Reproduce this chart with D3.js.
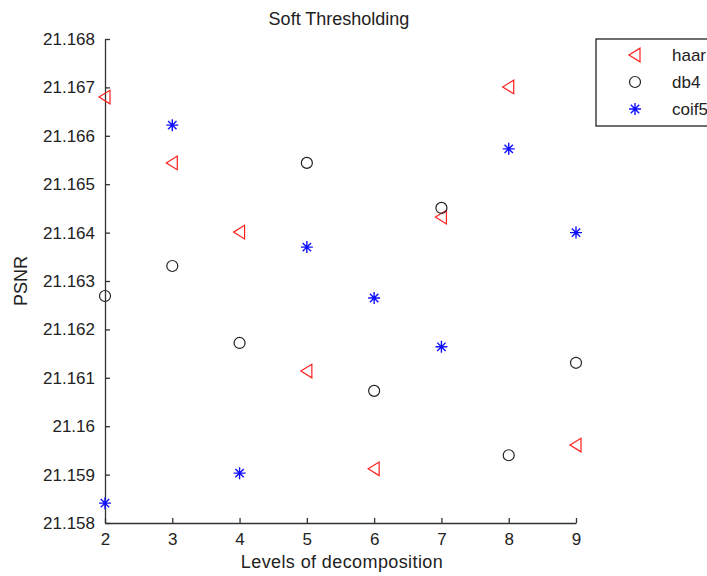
<!DOCTYPE html>
<html><head><meta charset="utf-8">
<script src="https://cdn.jsdelivr.net/npm/d3@7"></script>
<style>body{margin:0;background:#fff;} svg{display:block;} text{font-family:"Liberation Sans",Arial,sans-serif;fill:#222;}</style>
</head><body>
<svg id="c" width="707" height="576"></svg>
<script>
const levels = [2,3,4,5,6,7,8,9];
const haar  = [21.1668,21.16544,21.16401,21.16114,21.15912,21.16432,21.16701,21.15961];
const db4   = [21.16269,21.16331,21.16172,21.16544,21.16073,21.16451,21.1594,21.16131];
const coif5 = [21.15841,21.16622,21.15903,21.1637,21.16265,21.16164,21.16573,21.164];
const yTicks = [21.158,21.159,21.16,21.161,21.162,21.163,21.164,21.165,21.166,21.167,21.168];
const seriesNames = ["haar","db4","coif5"];

const svg = d3.select("#c");
const x = d3.scaleLinear().domain([2,9]).range([105,576]);
const y = d3.scaleLinear().domain([21.158,21.168]).range([523,39]);

// axes
const xAxis = d3.axisBottom(x).tickValues(levels).tickSizeInner(-5).tickSizeOuter(0).tickPadding(10)
  .tickFormat(d3.format("d"));
const yAxis = d3.axisLeft(y).tickValues(yTicks).tickSizeInner(-5).tickSizeOuter(0).tickPadding(10)
  .tickFormat(d => d3.format(".6~f")(d));
const gx = svg.append("g").attr("transform","translate(0,523)").call(xAxis);
const gy = svg.append("g").attr("transform","translate(105,0)").call(yAxis);
[gx,gy].forEach(g=>{
  g.selectAll("path,line").attr("stroke","#333").attr("stroke-width",1.3);
  g.selectAll("text").attr("font-size",17).attr("fill","#222").attr("font-family","Liberation Sans, Arial, sans-serif");
});

// markers
function triPath(){ // left-pointing triangle
  return `M-6,0 L5,-6.8 L5,6.8 Z`;
}
function drawTri(g,cx,cy){
  g.append("path").attr("d",triPath()).attr("transform",`translate(${cx},${cy})`)
   .attr("fill","none").attr("stroke","#ff2020").attr("stroke-width",1.2);
}
function drawCirc(g,cx,cy){
  g.append("circle").attr("cx",cx).attr("cy",cy).attr("r",5.5)
   .attr("fill","none").attr("stroke","#222").attr("stroke-width",1.2);
}
function drawStar(g,cx,cy){
  const r=6, d=4.2;
  g.append("path").attr("transform",`translate(${cx},${cy})`)
   .attr("d",`M${-r},0L${r},0M0,${-r}L0,${r}M${-d},${-d}L${d},${d}M${-d},${d}L${d},${-d}`)
   .attr("stroke","#1010ff").attr("stroke-width",1.4).attr("fill","none");
}
const pg = svg.append("g");
levels.forEach((l,i)=>{
  drawTri(pg,x(l),y(haar[i]));
  drawCirc(pg,x(l),y(db4[i]));
  drawStar(pg,x(l),y(coif5[i]));
});

// title & labels
svg.append("text").attr("x",339).attr("y",25).attr("text-anchor","middle").attr("font-size",18).text("Soft Thresholding");
svg.append("text").attr("x",342).attr("y",568).attr("text-anchor","middle").attr("font-size",18).attr("letter-spacing",0.4).text("Levels of decomposition");
svg.append("text").attr("transform","translate(27,281) rotate(-90)").attr("text-anchor","middle").attr("font-size",18).text("PSNR");

// legend
const lg = svg.append("g");
lg.append("rect").attr("x",596).attr("y",39).attr("width",130).attr("height",87)
  .attr("fill","#fff").attr("stroke","#222").attr("stroke-width",1.3);
const rowsY=[55,82,109];
const drawers=[drawTri,drawCirc,drawStar];
seriesNames.forEach((n,i)=>{
  drawers[i](lg,635,rowsY[i]);
  lg.append("text").attr("x",672).attr("y",rowsY[i]+6).attr("font-size",17).text(n);
});
</script>
</body></html>
